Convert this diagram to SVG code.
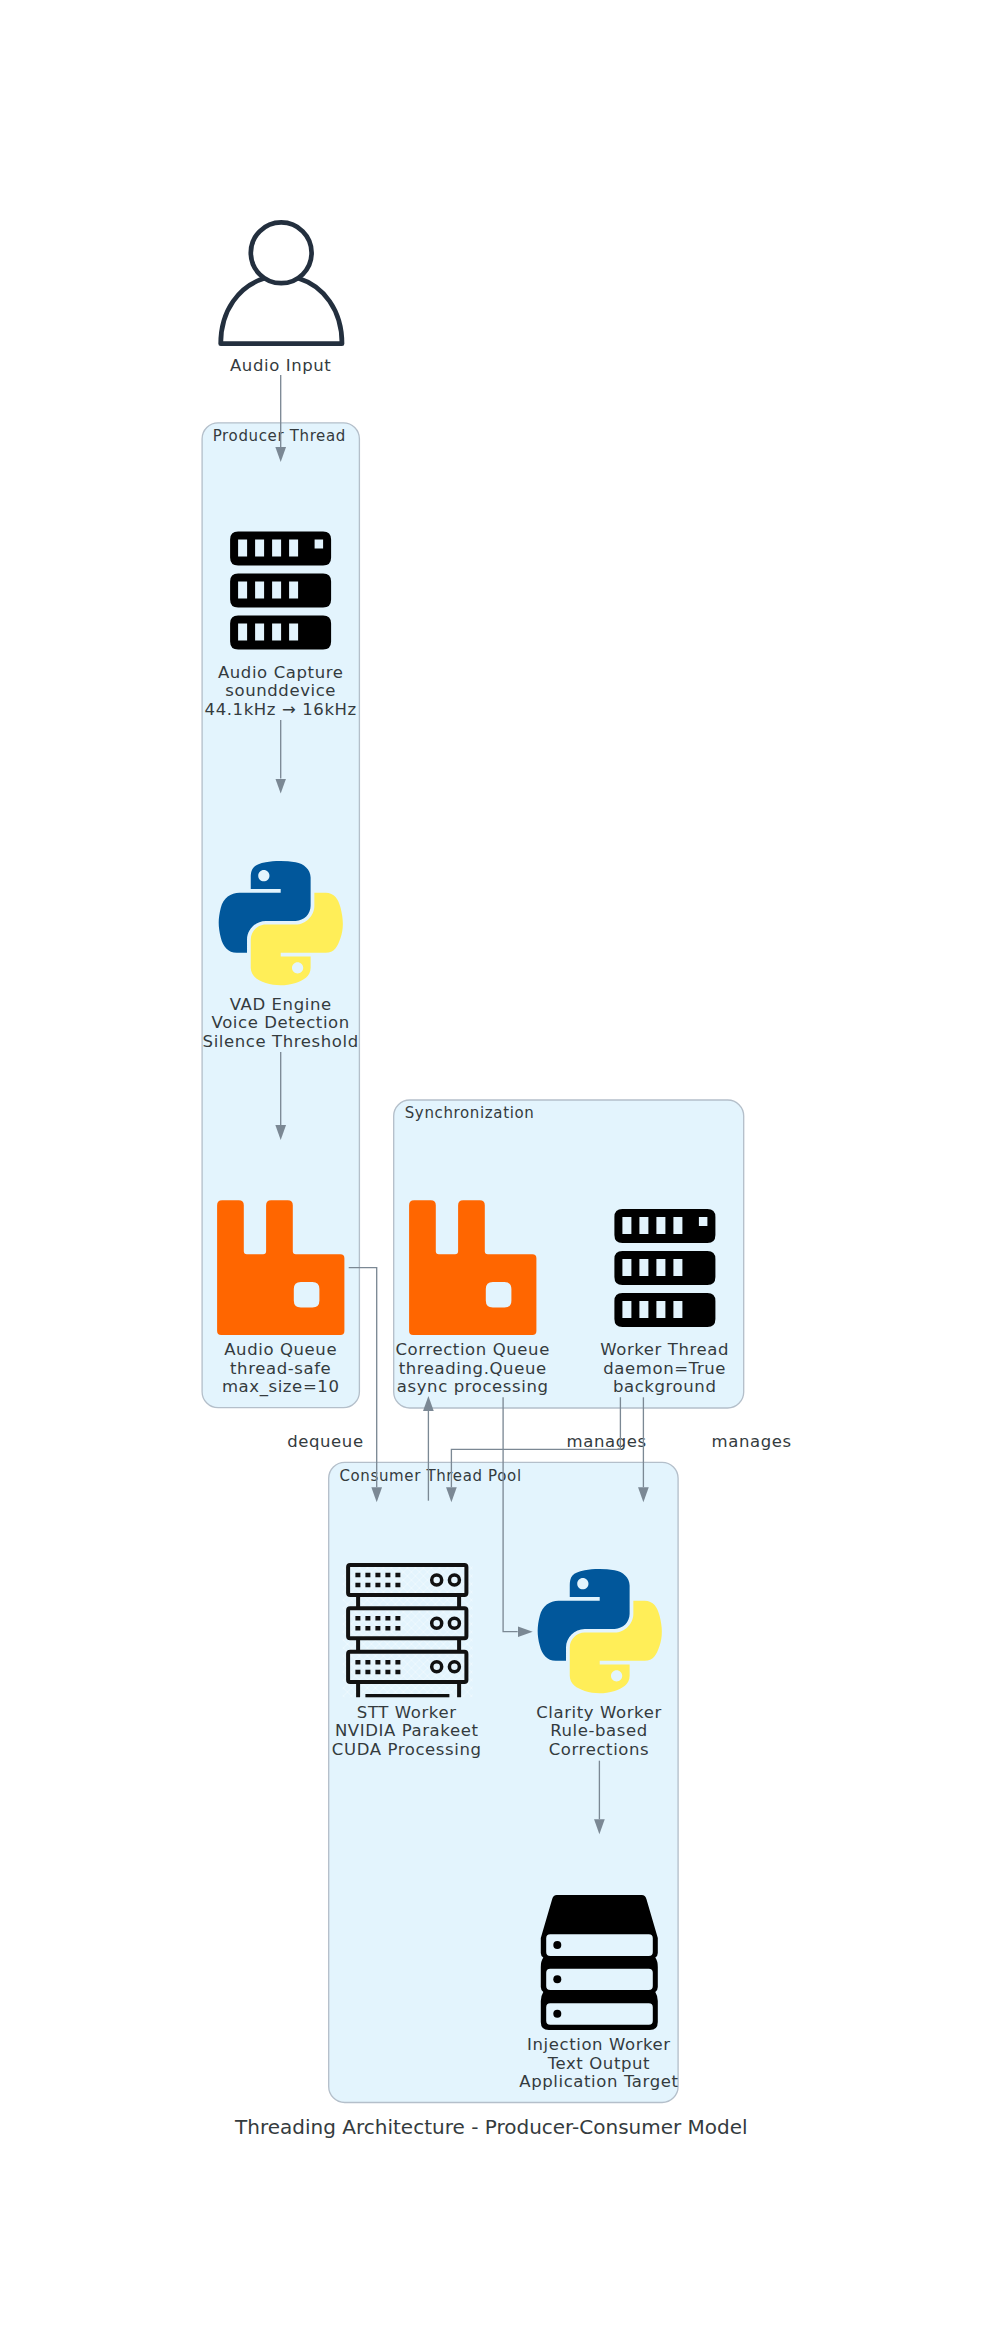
<svg xmlns="http://www.w3.org/2000/svg" width="985" height="2339" viewBox="0 0 985 2339">
<style>
text{font-family:"DejaVu Sans",sans-serif;fill:#343b3e;text-anchor:middle}
.n,.e{font-size:16.5px;letter-spacing:.6px}
.c{font-size:15px;letter-spacing:.64px;text-anchor:start}
.t{font-size:20px}
.cl{fill:#e3f4fd;stroke:#b4bfca;stroke-width:1.33}
.ln{fill:none;stroke:#7b8894;stroke-width:1.33;marker-end:url(#a)}
.blk{fill:#000;fill-rule:evenodd}
.sr{fill:none;stroke:#111;stroke-width:4}
.sc{fill:none;stroke:#111;stroke-width:3.500}
.dt{fill:#111}
</style>
<defs>
<marker id="a" markerUnits="userSpaceOnUse" markerWidth="16" markerHeight="12" refX="0" refY="6" orient="auto"><path d="M0,.65L15,6L0,11.35Z" fill="#7b8894"/></marker>
<pattern id="h" patternUnits="userSpaceOnUse" width="8" height="8"><path d="M0,0L8,8M8,0L0,8" stroke="#fff" stroke-width=".8" opacity=".45"/></pattern>
<symbol id="srv" overflow="visible"><path class="blk" d="M8,0H93Q101,0 101,8V26Q101,34 93,34H8Q0,34 0,26V8Q0,0 8,0ZM8,8V25H17V8ZM25,8V25H34V8ZM42,8V25H51V8ZM59,8V25H68V8ZM84.500,8V17H93V8Z
M8,42H93Q101,42 101,50V68Q101,76 93,76H8Q0,76 0,68V50Q0,42 8,42ZM8,50V67H17V50ZM25,50V67H34V50ZM42,50V67H51V50ZM59,50V67H68V50Z
M8,84H93Q101,84 101,92V110Q101,118 93,118H8Q0,118 0,110V92Q0,84 8,84ZM8,92V109H17V92ZM25,92V109H34V92ZM42,92V109H51V92ZM59,92V109H68V92Z"/></symbol>
<symbol id="rmq" overflow="visible"><path fill="#f60" fill-rule="evenodd" d="M5,0H21.700Q26.700,0 26.700,5V51Q26.700,54 29.700,54H46Q49,54 49,51V5Q49,0 54,0H70.700Q75.700,0 75.700,5V51Q75.700,54 78.700,54H123.300Q127.300,54 127.300,58V130.700Q127.300,134.700 123.300,134.700H4Q0,134.700 0,130.700V5Q0,0 5,0ZM83.700,81.700Q76.700,81.700 76.700,88.700V100.300Q76.700,107.300 83.700,107.300H95.300Q102.300,107.300 102.300,100.300V88.700Q102.300,81.700 95.300,81.700Z"/></symbol>
<symbol id="py" overflow="visible"><g transform="scale(1.117,1.105)"><path fill-rule="evenodd" fill="#01579b" d="M54.919,0C50.335,.02 45.958,.41 42.106,1.095C30.760,3.099 28.700,7.295 28.700,15.032V25.251H55.513V28.657H18.638C10.845,28.657 4.022,33.341 1.888,42.251C-.574,52.462 -.683,58.838 1.888,69.499C3.794,77.434 8.346,83.091 16.138,83.091H25.356V70.843C25.356,61.995 33.012,54.187 42.106,54.187H68.887C76.341,54.187 82.293,48.049 82.293,40.562V15.032C82.293,7.766 76.163,2.307 68.887,1.095C64.281,.328 59.502,-.02 54.919,0ZM40.419,8.220C43.189,8.220 45.450,10.519 45.450,13.345C45.450,16.161 43.189,18.438 40.419,18.438C37.640,18.438 35.387,16.161 35.387,13.345C35.387,10.519 37.640,8.220 40.419,8.220Z"/><path fill-rule="evenodd" fill="#ffee58" d="M85.638,28.657V40.562C85.638,49.791 77.813,57.562 68.887,57.562H42.106C34.771,57.562 28.700,63.841 28.700,71.187V96.718C28.700,103.985 35.019,108.259 42.106,110.343C50.593,112.838 58.731,113.289 68.887,110.343C75.637,108.388 82.293,104.455 82.293,96.718V86.500H55.513V83.093H95.700C103.493,83.093 106.397,77.657 109.107,69.499C111.907,61.102 111.788,53.027 109.107,42.251C107.181,34.493 103.503,28.657 95.700,28.657ZM70.637,91.593C73.417,91.593 75.669,93.870 75.669,96.687C75.669,99.513 73.417,101.812 70.637,101.812C67.866,101.812 65.606,99.513 65.606,96.687C65.606,93.870 67.866,91.593 70.637,91.593Z"/></g></symbol>
</defs>
<rect width="985" height="2339" fill="#fff"/>
<g transform="translate(-.6,0)">
<g id="cluster-producer"><rect class="cl" x="202.700" y="422.800" width="157.300" height="984.900" rx="16"/><text class="c" x="213.300" y="441">Producer Thread</text></g>
<g id="cluster-sync"><rect class="cl" x="394.300" y="1100" width="350" height="308" rx="16"/><text class="c" x="405.300" y="1118.300">Synchronization</text></g>
<g id="cluster-consumer"><rect class="cl" x="329.300" y="1462.300" width="349.400" height="640.200" rx="16"/><text class="c" x="340" y="1481">Consumer Thread Pool</text></g>
<g id="audio-input"><circle cx="281.800" cy="252.800" r="30.400" fill="none" stroke="#232f3e" stroke-width="4.700"/><path d="M265,278.300C240,286 221.300,310 221.300,343.700H342.600C342.600,310 324,286 299,278.300" fill="none" stroke="#232f3e" stroke-width="4.700" stroke-linejoin="round"/><text class="n" x="281.300" y="370.500">Audio Input</text></g>
<g id="audio-capture"><use href="#srv" x="230.700" y="531.600"/><text class="n" x="281.300" y="678">Audio Capture</text><text class="n" x="281.300" y="696.400">sounddevice</text><text class="n" x="281.300" y="714.800">44.1kHz → 16kHz</text></g>
<g id="vad-engine"><use href="#py" x="219.300" y="861"/><text class="n" x="281.300" y="1010">VAD Engine</text><text class="n" x="281.300" y="1028.400">Voice Detection</text><text class="n" x="281.300" y="1046.800">Silence Threshold</text></g>
<g id="audio-queue"><use href="#rmq" x="217.700" y="1200.300"/><text class="n" x="281.300" y="1355">Audio Queue</text><text class="n" x="281.300" y="1373.500">thread-safe</text><text class="n" x="281.300" y="1392">max_size=10</text></g>
<g id="correction-queue"><use href="#rmq" x="409.700" y="1200.300"/><text class="n" x="473.300" y="1355">Correction Queue</text><text class="n" x="473.300" y="1373.500">threading.Queue</text><text class="n" x="473.300" y="1392">async processing</text></g>
<g id="worker-thread"><use href="#srv" x="615" y="1209"/><text class="n" x="665.300" y="1355">Worker Thread</text><text class="n" x="665.300" y="1373.500">daemon=True</text><text class="n" x="665.300" y="1392">background</text></g>
<g id="stt-worker">
<rect x="343.300" y="1563" width="130" height="134.300" fill="url(#h)"/>
<g class="sr"><rect x="348.700" y="1565" width="118.300" height="30" rx="2"/><rect x="348.700" y="1608.300" width="118.300" height="30" rx="2"/><rect x="348.700" y="1651.700" width="118.300" height="30.300" rx="2"/><path d="M358.700,1595V1608M459.700,1595V1608M358.700,1638V1652M459.700,1638V1652M358.700,1682V1697.300M459.700,1682V1697.300"/></g>
<rect class="dt" x="366" y="1694" width="84" height="3.300"/>
<g class="sc"><circle cx="437.300" cy="1580" r="5"/><circle cx="455" cy="1580" r="5"/><circle cx="437.300" cy="1623.300" r="5"/><circle cx="455" cy="1623.300" r="5"/><circle cx="437.300" cy="1666.700" r="5"/><circle cx="455" cy="1666.700" r="5"/></g>
<path stroke="#111" stroke-width="4.500" stroke-dasharray="5 5" d="M356,1575H401M356,1585H401M356,1618.300H401M356,1628.300H401M356,1662.300H401M356,1672H401"/>
<text class="n" x="407.300" y="1717.700">STT Worker</text><text class="n" x="407.300" y="1736">NVIDIA Parakeet</text><text class="n" x="407.300" y="1754.500">CUDA Processing</text></g>
<g id="clarity-worker"><use href="#py" x="538.300" y="1569"/><text class="n" x="599.600" y="1717.700">Clarity Worker</text><text class="n" x="599.600" y="1736">Rule-based</text><text class="n" x="599.600" y="1754.500">Corrections</text></g>
<g id="injection-worker"><path transform="translate(541.400,1895)" class="blk" d="M11.400,4Q12.500,0 16,0H101Q104.500,0 105.600,4L117,43V58Q117,61 114.500,62.500Q117,66 117,72V92Q117,95 114.500,97Q117,101 117,106V127Q117,135 109,135H8Q0,135 0,127V106Q0,101 2.500,97Q0,95 0,92V72Q0,66 2.500,62.500Q0,61 0,58V43ZM9.400,39.300Q5.400,39.300 5.400,43.300V57Q5.400,61 9.400,61H108Q112,61 112,57V43.300Q112,39.300 108,39.300ZM9.400,73.700Q5.400,73.700 5.400,77.700V91Q5.400,95 9.400,95H108Q112,95 112,91V77.700Q112,73.700 108,73.700ZM9.400,108.300Q5.400,108.300 5.400,112.300V125.700Q5.400,129.700 9.400,129.700H108Q112,129.700 112,125.700V112.300Q112,108.300 108,108.300Z"/><circle cx="557.900" cy="1945" r="4"/><circle cx="557.900" cy="1979.300" r="4"/><circle cx="557.900" cy="2013.700" r="4"/><text class="n" x="599.500" y="2050">Injection Worker</text><text class="n" x="599.500" y="2068.500">Text Output</text><text class="n" x="599.500" y="2087">Application Target</text></g>
<g id="edge-labels"><text class="e" x="326" y="1446.700">dequeue</text><text class="e" x="607.300" y="1446.700">manages</text><text class="e" x="752.300" y="1446.700">manages</text></g>
<g id="connectors">
<path class="ln" d="M281.300,375V447"/>
<path class="ln" d="M281.300,720V778.600"/>
<path class="ln" d="M281.300,1052V1125"/>
<path class="ln" d="M349.300,1267.700H377.300V1487.300"/>
<path class="ln" d="M429,1500.700V1411"/>
<path class="ln" d="M503.700,1397.300V1631.700H518.300"/>
<path class="ln" d="M621,1397.300V1449.300H452V1487.300"/>
<path class="ln" d="M644,1397.300V1487.300"/>
<path class="ln" d="M600,1760.700V1819.300"/>
</g>
<text class="t" x="492" y="2134.300">Threading Architecture - Producer-Consumer Model</text>
</g>
</svg>
